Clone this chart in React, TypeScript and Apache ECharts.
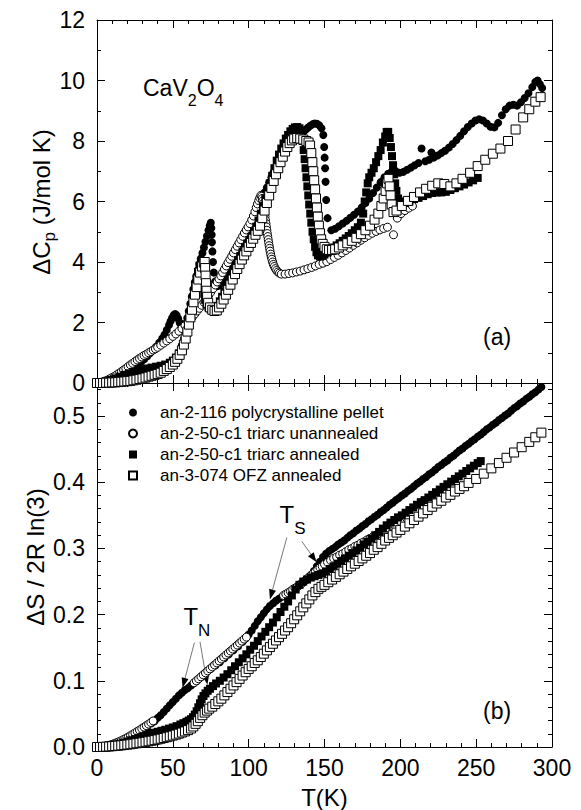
import React, { useEffect, useRef } from "react";
import * as echarts from "echarts";

const FONT = '"Liberation Sans", Arial, Helvetica, sans-serif';

const sampleNames = [
  "an-2-116 polycrystalline pellet",
  "an-2-50-c1 triarc unannealed",
  "an-2-50-c1 triarc annealed",
  "an-3-074 OFZ annealed",
];

// ---- panel (a): ΔCp (J/mol K) versus T (K) ----
const polyCp: [number, number][] = [
  [1,0],[3,0.01],[5,0.03],[7,0.05],[9,0.08],[11,0.11],[13,0.15],[15,0.2],[17,0.26],[19,0.32],[21,0.39],[23,0.46],[25,0.53],[27,0.61],[29,0.69],[31,0.78],[33,0.88],[35,0.98],[37,1.09],[39,1.2],[41,1.33],[43,1.47],[44.5,1.6],[46,1.75],[47.5,1.92],[48.5,2.04],[49.5,2.15],[50.5,2.24],[51.5,2.28],[52.5,2.24],[53.5,2.13],[54.5,2.0],[55.5,1.9],[56.5,1.84],[57.5,1.86],[58.5,1.97],[59.5,2.15],[60.5,2.38],[61.5,2.62],[62.5,2.86],[63.5,3.1],[64.5,3.33],[65.5,3.54],[66.5,3.74],[67.5,3.93],[68.5,4.12],[69.5,4.3],[70.5,4.48],[71.5,4.67],[72.5,4.86],[73.5,5.05],[74.3,5.2],[75,5.3],[75.4,5.12],[75.6,4.9],[75.8,4.65],[76.1,4.35],[76.5,4.0],[77,3.65],[77.8,3.35],[79,3.2],[80.5,3.22],[82,3.33],[83.5,3.47],[85,3.62],[86.5,3.78],[88,3.94],[89.5,4.1],[91,4.26],[92.5,4.41],[94,4.56],[95.5,4.7],[97,4.84],[98.5,4.97],[100,5.1],[101.5,5.26],[103,5.43],[104.5,5.62],[106,5.82],[107.5,6.0],[109,6.15],[110.5,6.3],[112,6.46],[113.5,6.63],[115,6.8],[116.5,6.98],[118,7.15],[119.5,7.31],[121,7.46],[122.5,7.6],[124,7.73],[125.5,7.84],[127,7.94],[128.5,8.02],[130,8.09],[131.5,8.15],[133,8.2],[134.5,8.25],[136,8.3],[137.5,8.37],[139,8.44],[140.5,8.5],[142,8.55],[143.5,8.58],[145,8.57],[146.5,8.52],[148,8.42],[149.2,8.2],[149.8,7.8],[150.1,7.45],[150.4,7.1],[150.7,6.65],[151.1,6.05],[152,5.45],[154.5,5.05],[157,5.1],[159.5,5.18],[162,5.27],[164.5,5.36],[167,5.46],[169.5,5.56],[172,5.67],[174.5,5.8],[177,5.95],[179.5,6.1],[182,6.28],[184.5,6.46],[187,6.64],[189.5,6.8],[192,6.92],[194.5,7.0],[197,7.0],[199.5,6.95],[202,6.98],[204.5,7.05],[207,7.12],[209.5,7.2],[212,7.27],[214,7.75],[216.5,7.33],[219,7.38],[220.5,7.62],[222,7.45],[224.5,7.52],[227,7.6],[229.5,7.68],[232,7.78],[234.5,7.9],[237,8.03],[239.5,8.17],[242,8.32],[244.5,8.46],[247,8.58],[249.5,8.68],[252,8.72],[254.5,8.68],[257,8.58],[259.5,8.47],[262,8.45],[264.5,8.6],[267,8.85],[269.5,9.05],[272,9.17],[274.5,9.2],[277,9.17],[279.5,9.28],[282,9.42],[284.5,9.58],[287,9.78],[289,9.95],[290.5,10.0],[292,9.88],[293.5,9.75],
];

const unannealedCp: [number, number][] = [
  [1,0],[2.5,0.02],[4,0.04],[5.5,0.07],[7,0.1],[8.5,0.14],[10,0.18],[11.5,0.22],[13,0.27],[14.5,0.32],[16,0.37],[17.5,0.43],[19,0.48],[20.5,0.54],[22,0.6],[23.5,0.65],[25,0.71],[26.5,0.76],[28,0.81],[29.5,0.86],[31,0.91],[32.5,0.95],[34,1.0],[35.5,1.04],[37,1.09],[38.5,1.13],[40,1.18],
  [42,1.25],[44,1.32],[46,1.39],[48,1.46],[50,1.54],[52,1.62],[54,1.71],[56,1.8],[58,1.9],[60,2.01],
  [61.5,2.1],[63,2.19],[64.5,2.28],[66,2.38],[67.5,2.47],[69,2.57],[70.5,2.67],[72,2.78],[73.5,2.89],[75,3.0],[76.5,3.12],[78,3.24],
  [79.2,3.34],[80.4,3.44],[81.6,3.54],[82.8,3.65],[84,3.76],[85.2,3.87],[86.4,3.98],[87.6,4.09],[88.8,4.19],[90,4.3],[91.2,4.41],[92.4,4.52],[93.6,4.63],[94.8,4.74],[96,4.85],[97.2,4.96],[98.4,5.06],[99.6,5.16],[100.8,5.27],[102,5.39],[103.1,5.52],[104.1,5.66],[105,5.8],[105.8,5.92],[106.6,6.03],[107.3,6.12],[108,6.2],
  [108.6,6.17],[109,6.1],[109.3,6.02],[109.6,5.93],[109.9,5.83],[110.2,5.72],[110.5,5.61],[110.8,5.5],[111.1,5.38],[111.4,5.27],[111.7,5.16],[112,5.05],[112.3,4.94],[112.6,4.84],[112.9,4.74],[113.2,4.64],[113.5,4.54],[113.8,4.45],[114.1,4.36],[114.5,4.26],[114.9,4.17],[115.3,4.09],[115.8,4.0],[116.3,3.92],[116.9,3.85],[117.6,3.78],[118.4,3.72],[119.3,3.67],[120.3,3.63],
  [121.5,3.6],[124,3.6],[126.5,3.62],[129,3.64],[131.5,3.67],[134,3.7],[136.5,3.74],[139,3.78],[141.5,3.82],[144,3.87],[146.5,3.92],[149,3.96],[151.5,4.01],[154,4.08],[156.5,4.15],[159,4.22],[161.5,4.3],[164,4.38],[166.5,4.46],[169,4.55],[171.5,4.63],[174,4.72],[176.5,4.8],[179,4.88],[181.5,4.95],[184,5.01],[186.5,5.06],[189,5.11],[191.5,5.15],[195.5,4.9],[198,5.45],[200.5,5.6],[203,5.7],[205.5,5.78],[208,5.85],
];

const annealedCp: [number, number][] = [
  [0,0],[3,0.02],[6,0.05],[9,0.1],[12,0.15],[15,0.21],[18,0.27],[21,0.32],[24,0.37],[27,0.41],[30,0.45],[33,0.48],[36,0.51],[39,0.54],[42,0.57],[45,0.61],[48,0.67],[50,0.74],[52,0.84],[54,0.98],[56,1.18],[57.5,1.4],[59,1.65],[60.3,1.95],[61.5,2.25],[62.6,2.55],[63.6,2.85],[64.6,3.15],[65.6,3.42],[66.6,3.67],[67.6,3.88],[68.5,4.0],[69,3.9],[69.4,3.7],[69.8,3.45],[70.2,3.2],[70.7,2.95],[71.3,2.75],[72.2,2.6],[73.5,2.5],[75,2.44],[76.5,2.42],[78,2.45],[79.5,2.55],[81,2.7],[82.5,2.85],[84,3.02],[85.5,3.2],[87,3.38],[88.5,3.56],[90,3.74],[91.5,3.9],[93,4.05],[94.5,4.2],[96,4.34],[97.5,4.47],[99,4.6],[100.5,4.72],[102,4.85],[103.5,5.0],[105,5.17],[106.5,5.37],[108,5.6],[109.5,5.85],[111,6.1],[112.5,6.35],[114,6.6],[115.5,6.85],[117,7.1],[118.5,7.35],[120,7.55],[121.5,7.75],[123,7.92],[124.5,8.08],[126,8.2],[127.5,8.32],[129,8.4],[130.5,8.45],[132,8.46],[133.5,8.42],[134.8,8.25],[135.6,8.0],[136.3,7.7],[136.9,7.4],[137.5,7.1],[138.1,6.8],[138.7,6.5],[139.3,6.2],[139.9,5.9],[140.6,5.6],[141.3,5.3],[142.1,5.0],[142.9,4.75],[143.8,4.5],[144.7,4.32],[145.7,4.22],[147,4.18],[148.5,4.2],[150,4.25],[152,4.32],[154,4.4],[156,4.48],[158,4.55],[160,4.62],[162,4.7],[164,4.78],[166,4.86],[168,4.95],[170,5.05],[172,5.15],[174,5.3],[175.5,5.6],[176.5,6.0],[177.5,6.3],[178.5,6.6],[179.5,6.8],[181,6.95],[182.5,7.1],[184,7.3],[185.5,7.5],[187,7.7],[188.5,7.95],[190,8.15],[191,8.3],[192,8.3],[193,8.1],[193.8,7.8],[194.5,7.5],[195.2,7.2],[195.9,6.9],[196.6,6.6],[197.4,6.35],[198.5,6.1],[200,6.0],[203,5.95],[206,6.0],[209,6.08],[212,6.12],[215,6.18],[218,6.24],[221,6.28],[224,6.3],[227,6.3],[230,6.32],[233,6.38],[236,6.44],[239,6.5],[242,6.56],[245,6.63],[248,6.7],[251,6.78],
];

const ofzCp: [number, number][] = [
  [0,0],[2,0],[4,0],[6,0.01],[8,0.01],[10,0.02],[12,0.02],[14,0.03],[16,0.04],[18,0.05],[20,0.06],[22,0.07],[24,0.09],[26,0.11],[28,0.13],[30,0.15],[32,0.18],[34,0.21],[36,0.24],[38,0.27],[40,0.3],[42,0.34],[44,0.4],[46,0.46],[48,0.53],[50,0.61],[51.5,0.7],[53,0.8],[54.5,0.93],[56,1.08],[57.3,1.27],[58.5,1.47],[59.6,1.7],[60.6,1.93],[61.6,2.17],[62.6,2.42],[63.6,2.67],[64.6,2.92],[65.7,3.17],[66.8,3.42],[68,3.65],[69.2,3.85],[70.4,3.98],[71,4.0],[71.3,3.8],[71.6,3.55],[71.9,3.3],[72.2,3.05],[72.6,2.85],[73.3,2.65],[74.5,2.5],[76,2.42],[77.5,2.38],[79,2.4],[80.5,2.5],[82,2.62],[83.5,2.76],[85,2.92],[86.5,3.08],[88,3.25],[89.5,3.42],[91,3.6],[92.5,3.77],[94,3.93],[95.5,4.08],[97,4.22],[98.5,4.35],[100,4.5],[101.5,4.63],[103,4.77],[104.5,4.9],[106,5.03],[107.5,5.2],[109,5.45],[110.5,5.7],[112,5.95],[113.5,6.2],[115,6.45],[116.5,6.68],[118,6.9],[119.5,7.1],[121,7.3],[122.5,7.48],[124,7.65],[125.5,7.8],[127,7.93],[128.5,8.02],[130,8.08],[132,8.1],[134,8.08],[136,8.05],[138,8.0],[139.5,7.95],[140.5,7.85],[141.3,7.6],[142,7.3],[142.6,7.0],[143.2,6.7],[143.8,6.4],[144.4,6.1],[145,5.8],[145.6,5.5],[146.3,5.2],[147,4.95],[147.8,4.75],[148.8,4.6],[150,4.5],[151.5,4.42],[153,4.4],[155,4.4],[157,4.42],[159.5,4.48],[162,4.55],[165,4.62],[168,4.7],[171,4.8],[174,4.92],[177,5.05],[180,5.2],[183,5.4],[185.5,5.6],[187.5,5.85],[189,6.1],[190.3,6.35],[191.3,6.6],[192.2,6.75],[193,6.5],[193.6,6.2],[194.3,5.9],[195.5,5.65],[197.5,5.7],[201,5.85],[205,6.02],[209,6.15],[213,6.3],[217,6.42],[221,6.52],[225,6.6],[229,6.58],[233,6.5],[237,6.6],[241,6.75],[246,6.95],[251,7.17],[256,7.38],[261,7.58],[266,7.75],[271,8.0],[276,8.38],[281,8.78],[285,9.05],[289,9.3],[292.5,9.45],
];

// ---- panel (b): ΔS / 2R ln(3) versus T (K) ----
const polyS: [number, number][] = [
  [0,0],[3,0.0005],[6,0.001],[9,0.002],[12,0.004],[15,0.006],[18,0.009],[21,0.012],[24,0.016],[27,0.02],[30,0.025],[33,0.03],[36,0.036],
  [38,0.039],[40,0.044],[42,0.048],[44,0.053],[46,0.058],[48,0.063],[50,0.068],[52,0.073],[54,0.078],[56,0.082],[58,0.086],[60,0.089],[62,0.093],[64,0.097],[66,0.1],
  [69,0.106],[72,0.112],[75,0.118],[78,0.123],[81,0.128],[84,0.134],[87,0.14],[90,0.146],[93,0.152],[96,0.159],
  [98,0.164],[100,0.17],[102,0.176],[104,0.183],[106,0.19],[108,0.196],[110,0.202],[112,0.208],[114,0.213],[116,0.217],[118,0.221],[120,0.224],[122,0.227],[124,0.23],
  [127,0.234],[130,0.239],[133,0.243],[136,0.249],[139,0.255],[141,0.26],[143,0.266],[145,0.273],[147,0.28],[149,0.287],
  [151,0.292],[153,0.296],[155,0.299],[157,0.302],[159,0.306],[161,0.309],[163,0.312],[165,0.316],[167,0.32],[169,0.323],[171,0.327],[173,0.33],[175,0.334],[177,0.337],[179,0.341],[181,0.344],[183,0.348],[185,0.351],[187,0.355],[189,0.358],[191,0.362],[193,0.366],[195,0.369],[197,0.373],[199,0.376],[201,0.38],[203,0.383],[205,0.387],[207,0.39],[209,0.394],[211,0.398],[213,0.401],[215,0.405],[217,0.408],[219,0.412],[221,0.415],[223,0.419],[225,0.423],[227,0.426],[229,0.43],[231,0.433],[233,0.437],[235,0.44],[237,0.444],[239,0.448],[241,0.451],[243,0.455],[245,0.458],[247,0.462],[249,0.465],[251,0.469],[253,0.472],[255,0.476],[257,0.48],[259,0.483],[261,0.487],[263,0.49],[265,0.494],[267,0.497],[269,0.501],[271,0.504],[273,0.508],[275,0.512],[277,0.515],[279,0.519],[281,0.522],[283,0.526],[285,0.529],[287,0.533],[289,0.536],[291,0.54],[293,0.544],
];

const unannealedS: [number, number][] = [
  [1,0],[2.5,0.0003],[4,0.0007],[5.5,0.0012],[7,0.002],[8.5,0.003],[10,0.004],[11.5,0.0052],[13,0.0066],[14.5,0.008],[16,0.0096],[17.5,0.0113],[19,0.013],[20.5,0.015],[22,0.017],[23.5,0.019],[25,0.0212],[26.5,0.0234],[28,0.0256],[29.5,0.0278],[31,0.03],[32.5,0.0323],[34,0.0346],[35.5,0.037],[37,0.0394],
  [64,0.097],[65.5,0.1],[67,0.103],[68.5,0.106],[70,0.109],[71.5,0.112],[73,0.115],[74.5,0.118],[76,0.121],[77.5,0.124],[79,0.127],[80.5,0.13],[82,0.133],[83.5,0.136],[85,0.139],[86.5,0.142],[88,0.145],[89.5,0.148],[91,0.151],[92.5,0.154],[94,0.157],[95.5,0.16],[97,0.163],[98.5,0.166],
  [123,0.229],[124.5,0.231],[126,0.233],[127.5,0.235],[129,0.238],[130.5,0.24],[132,0.242],[133.5,0.245],[135,0.247],[136.5,0.25],[138,0.253],[139.5,0.256],[141,0.259],[142.5,0.262],[144,0.265],[145.5,0.268],[147,0.271],[148.5,0.273],[150,0.276],[152,0.279],[154,0.282],[156,0.285],[158,0.287],[160,0.29],[162,0.292],[164,0.295],[166,0.298],[168,0.3],[170,0.303],[172,0.305],[174,0.308],[176,0.31],[178,0.313],[180,0.315],[182,0.318],[184,0.32],[186,0.323],[188,0.326],[190,0.328],[192,0.331],[194,0.334],[196,0.336],[198,0.339],[200,0.341],[202,0.344],[204,0.346],
];

const annealedS: [number, number][] = [
  [0,0],[2.5,0.0003],[5,0.0008],[7.5,0.0015],[10,0.0025],[12.5,0.0037],[15,0.005],[17.5,0.0066],[20,0.0083],[22.5,0.0102],[25,0.012],[27.5,0.014],[30,0.016],[32.5,0.018],[35,0.02],[37.5,0.0215],[40,0.023],[42.5,0.0245],[45,0.026],[47.5,0.0278],[50,0.0295],[52.5,0.0315],[55,0.034],[57,0.036],[59,0.038],[60.5,0.04],[62,0.042],[63.3,0.045],[64.5,0.049],[65.7,0.054],[66.8,0.06],[67.9,0.066],[69,0.072],[70.2,0.077],[71.5,0.081],[73,0.085],[74.5,0.088],[76.5,0.092],[78.5,0.096],[81,0.1],[83.5,0.105],[86,0.11],[88.5,0.116],[91,0.122],[93.5,0.128],[96,0.134],[98.5,0.14],[101,0.147],[103.5,0.153],[106,0.16],[108.5,0.167],[111,0.174],[113.5,0.181],[116,0.188],[118.5,0.196],[121,0.204],[123.5,0.212],[126,0.22],[128.5,0.229],[131,0.238],[133.5,0.245],[136,0.25],[138.5,0.253],[141,0.256],[143.5,0.258],[146,0.26],[148.5,0.262],[151,0.265],[153.5,0.269],[156,0.273],[158.5,0.277],[161,0.281],[163.5,0.285],[166,0.289],[168.5,0.293],[171,0.297],[173.5,0.301],[176,0.306],[178.5,0.31],[181,0.315],[183.5,0.32],[186,0.325],[188.5,0.33],[191,0.335],[193.5,0.339],[196,0.343],[198.5,0.347],[201,0.35],[203.5,0.354],[206,0.358],[208.5,0.362],[211,0.366],[213.5,0.37],[216,0.373],[218.5,0.377],[221,0.381],[223.5,0.385],[226,0.389],[228.5,0.393],[231,0.397],[233.5,0.401],[236,0.405],[238.5,0.409],[241,0.413],[243.5,0.417],[246,0.421],[248.5,0.425],[251,0.429],[253,0.432],
];

const ofzS: [number, number][] = [
  [0,0],[2,0],[4,0.0002],[6,0.0005],[8,0.0008],[10,0.0012],[12,0.0016],[14,0.002],[16,0.0025],[18,0.003],[20,0.0036],[22,0.0042],[24,0.0049],[26,0.0056],[28,0.0063],[30,0.007],[32,0.0078],[34,0.0086],[36,0.0095],[38,0.0104],[40,0.0114],[42,0.0125],[44,0.0136],[46,0.0148],[48,0.016],[50,0.0173],[52,0.0187],[54,0.0202],[56,0.0218],[58,0.0235],[60,0.0255],[62,0.028],[63.5,0.031],[65,0.035],[66.5,0.039],[68,0.044],[69.5,0.048],[71,0.052],[72.5,0.055],[74,0.058],[76,0.061],[78,0.065],[80,0.069],[82,0.073],[84,0.078],[86,0.083],[88,0.088],[90,0.093],[92,0.098],[94,0.103],[96,0.108],[98,0.113],[100,0.118],[102,0.122],[104,0.127],[106,0.131],[108,0.136],[110,0.141],[112,0.146],[114,0.151],[116,0.156],[118,0.161],[120,0.166],[122,0.171],[124,0.176],[126,0.181],[128,0.187],[130,0.193],[132,0.199],[134,0.205],[136,0.211],[138,0.217],[140,0.223],[142,0.229],[144,0.234],[146,0.239],[148,0.242],[150,0.245],[152.5,0.249],[155,0.253],[157.5,0.257],[160,0.261],[162.5,0.265],[165,0.269],[167.5,0.273],[170,0.277],[172.5,0.281],[175,0.285],[177.5,0.289],[180,0.293],[182.5,0.298],[185,0.302],[187.5,0.307],[190,0.312],[192.5,0.316],[195,0.32],[197.5,0.324],[200,0.328],[203,0.333],[206,0.338],[209,0.343],[212,0.348],[215,0.353],[218,0.358],[221,0.363],[224,0.368],[227,0.372],[230,0.377],[233,0.381],[236,0.386],[239,0.39],[242,0.394],[245,0.399],[250,0.405],[255,0.413],[260,0.421],[265,0.429],[270,0.437],[275,0.445],[280,0.453],[285,0.461],[289,0.468],[293,0.475],
];

// annotation arrows in panel (b): [tail, tip] in data units (T, ΔS/2R ln3)
const tsArrows: [number, number][][] = [
  [[125.2, 0.3167], [114, 0.223]],
  [[135.1, 0.3106], [144.8, 0.279]],
];
const tnArrows: [number, number][][] = [
  [[64.2, 0.1576], [56.4, 0.0894]],
  [[67.9, 0.159], [72.8, 0.094]],
];
const tsLabelAt: [number, number] = [125.2, 0.3515];
const tnLabelAt: [number, number] = [61.8, 0.197];

const BLACK = "#000";

function measureWidth(text: string, size: number): number {
  const ctx = document.createElement("canvas").getContext("2d");
  if (!ctx) return text.length * size * 0.55;
  ctx.font = `${size}px ${FONT}`;
  return ctx.measureText(text).width;
}

type Part = { text: string; sub?: boolean };

// Lays out text pieces left to right, subscripts smaller and lowered.
function formula(parts: Part[], size: number, subSize: number, subDrop: number, x0: number, y0: number) {
  let x = x0;
  const els: any[] = [];
  for (const p of parts) {
    const fs = p.sub ? subSize : size;
    const w = measureWidth(p.text, fs);
    els.push({
      type: "text",
      x,
      y: p.sub ? y0 + subDrop : y0,
      silent: true,
      style: {
        text: p.text,
        fontSize: fs,
        fontFamily: FONT,
        fill: BLACK,
        align: "left",
        textAlign: "left",
        verticalAlign: "middle",
        textVerticalAlign: "middle",
      },
    });
    x += w;
  }
  return { els, width: x - x0 };
}

function rotatedTitle(parts: Part[], cx: number, cy: number) {
  const probe = formula(parts, 24, 17, 8, 0, 0);
  const laid = formula(parts, 24, 17, 8, -probe.width / 2, 0);
  return { type: "group", x: cx, y: cy, rotation: Math.PI / 2, children: laid.els };
}

function xAxisDef(gridIndex: number, position: "top" | "bottom", labels: boolean, name?: string) {
  return {
    type: "value",
    gridIndex,
    position,
    min: 0,
    max: 300,
    interval: 50,
    name: name || "",
    nameLocation: "middle",
    nameGap: 38,
    nameTextStyle: { fontSize: 24, fontFamily: FONT, color: BLACK },
    axisLine: { show: true, onZero: false, lineStyle: { color: BLACK, width: 1 } },
    axisTick: { show: true, inside: true, length: 8, lineStyle: { color: BLACK, width: 1 } },
    minorTick: { show: true, splitNumber: 5, length: 4, lineStyle: { color: BLACK, width: 1 } },
    axisLabel: { show: labels, fontSize: 23, fontFamily: FONT, color: BLACK, margin: 9 },
    splitLine: { show: false },
    minorSplitLine: { show: false },
  };
}

function yAxisDef(gridIndex: number, position: "left" | "right", opts: any) {
  return {
    type: "value",
    gridIndex,
    position,
    axisLine: { show: opts.line !== false, onZero: false, lineStyle: { color: BLACK, width: 1 } },
    axisTick: { show: true, inside: true, length: opts.tickLen ?? 8, lineStyle: { color: BLACK, width: 1 } },
    axisLabel: {
      show: !!opts.labels,
      fontSize: 23,
      fontFamily: FONT,
      color: BLACK,
      margin: 12,
      showMaxLabel: opts.showMax !== false,
      formatter: opts.formatter,
    },
    splitLine: { show: false },
    min: opts.min,
    max: opts.max,
    interval: opts.interval,
    minorTick: opts.minor
      ? { show: true, splitNumber: opts.minor, length: 4, lineStyle: { color: BLACK, width: 1 } }
      : { show: false },
  };
}

function scatter(name: string, data: [number, number][], xi: number, yi: number, kind: "dot" | "ring" | "block" | "box") {
  const filled = kind === "dot" || kind === "block";
  const circle = kind === "dot" || kind === "ring";
  return {
    type: "scatter",
    name,
    data,
    xAxisIndex: xi,
    yAxisIndex: yi,
    symbol: circle ? "circle" : "rect",
    symbolSize: kind === "box" ? 9 : 8,
    silent: true,
    itemStyle: filled
      ? { color: BLACK, borderWidth: 0, opacity: 1 }
      : { color: "#fff", borderColor: BLACK, borderWidth: 1, opacity: 1 },
  };
}

export default function App() {
  const ref = useRef<HTMLDivElement>(null);

  useEffect(() => {
    if (!ref.current) return;
    const chart = echarts.init(ref.current, null, { renderer: "svg" });

    const option: any = {
      animation: false,
      backgroundColor: "#fff",
      grid: [
        { left: 97, top: 20, width: 455, height: 363 },
        { left: 97, top: 383, width: 455, height: 364 },
      ],
      xAxis: [
        xAxisDef(0, "bottom", false),
        xAxisDef(0, "top", false),
        xAxisDef(1, "bottom", true, "T(K)"),
        xAxisDef(1, "top", false),
      ],
      yAxis: [
        yAxisDef(0, "left", { labels: true, min: 0, max: 12, interval: 2, minor: 2 }),
        yAxisDef(0, "right", { min: 0, max: 12, interval: 2, minor: 2 }),
        yAxisDef(1, "left", {
          labels: true, min: 0, max: 0.55, interval: 0.1, showMax: false,
          formatter: (v: number) => v.toFixed(1),
        }),
        yAxisDef(1, "right", { min: 0, max: 0.55, interval: 0.1 }),
        yAxisDef(1, "left", { min: 0, max: 0.55, interval: 0.02, tickLen: 4, line: false }),
        yAxisDef(1, "right", { min: 0, max: 0.55, interval: 0.02, tickLen: 4, line: false }),
      ],
      legend: {
        data: sampleNames,
        orient: "vertical",
        left: 128,
        top: 404,
        padding: 0,
        itemWidth: 8,
        itemHeight: 8,
        itemGap: 4,
        selectedMode: false,
        textStyle: { fontSize: 17, fontFamily: FONT, color: BLACK, lineHeight: 17, padding: [0, 0, 0, 18] },
      },
      series: [
        scatter(sampleNames[0], polyCp, 0, 0, "dot"),
        scatter(sampleNames[1], unannealedCp, 0, 0, "ring"),
        scatter(sampleNames[2], annealedCp, 0, 0, "block"),
        scatter(sampleNames[3], ofzCp, 0, 0, "box"),
        scatter(sampleNames[0], polyS, 2, 2, "dot"),
        scatter(sampleNames[1], unannealedS, 2, 2, "ring"),
        scatter(sampleNames[2], annealedS, 2, 2, "block"),
        scatter(sampleNames[3], ofzS, 2, 2, "box"),
      ],
    };
    chart.setOption(option);

    const toPx = (p: [number, number]) =>
      chart.convertToPixel({ xAxisIndex: 2, yAxisIndex: 2 }, p) as number[];

    const arrow = (tail: [number, number], tip: [number, number]) => {
      const a = toPx(tail);
      const b = toPx(tip);
      const dx = b[0] - a[0];
      const dy = b[1] - a[1];
      const len = Math.hypot(dx, dy) || 1;
      const ux = dx / len;
      const uy = dy / len;
      const headLen = 10;
      const half = 3.5;
      const bx = b[0] - ux * headLen;
      const by = b[1] - uy * headLen;
      return [
        {
          type: "line",
          silent: true,
          shape: { x1: a[0], y1: a[1], x2: bx, y2: by },
          style: { stroke: "#555", lineWidth: 0.8 },
        },
        {
          type: "polygon",
          silent: true,
          shape: {
            points: [
              [b[0], b[1]],
              [bx - uy * half, by + ux * half],
              [bx + uy * half, by - ux * half],
            ],
          },
          style: { fill: BLACK },
        },
      ];
    };

    const tsPos = toPx(tsLabelAt);
    const tnPos = toPx(tnLabelAt);
    const tW = measureWidth("T", 24);

    const graphic: any[] = [
      rotatedTitle([{ text: "ΔC" }, { text: "p", sub: true }, { text: " (J/mol K)" }], 41, 202),
      rotatedTitle([{ text: "ΔS / 2R ln(3)" }], 35, 557),
      ...formula(
        [{ text: "CaV" }, { text: "2", sub: true }, { text: "O" }, { text: "4", sub: true }],
        23, 16, 12, 143, 88
      ).els,
      ...formula([{ text: "(a)" }], 23, 16, 0, 483, 337).els,
      ...formula([{ text: "(b)" }], 23, 16, 0, 483, 711).els,
      ...formula([{ text: "T" }, { text: "S", sub: true }], 24, 17, 14, tsPos[0] - tW / 2, tsPos[1]).els,
      ...formula([{ text: "T" }, { text: "N", sub: true }], 24, 17, 14, tnPos[0] - tW / 2, tnPos[1]).els,
      ...tsArrows.flatMap(([t, h]) => arrow(t, h)),
      ...tnArrows.flatMap(([t, h]) => arrow(t, h)),
    ];
    chart.setOption({ graphic });

    return () => chart.dispose();
  }, []);

  return (
    <div
      ref={ref}
      style={{ position: "absolute", left: 0, top: 0, width: 581, height: 810, background: "#fff" }}
    />
  );
}
